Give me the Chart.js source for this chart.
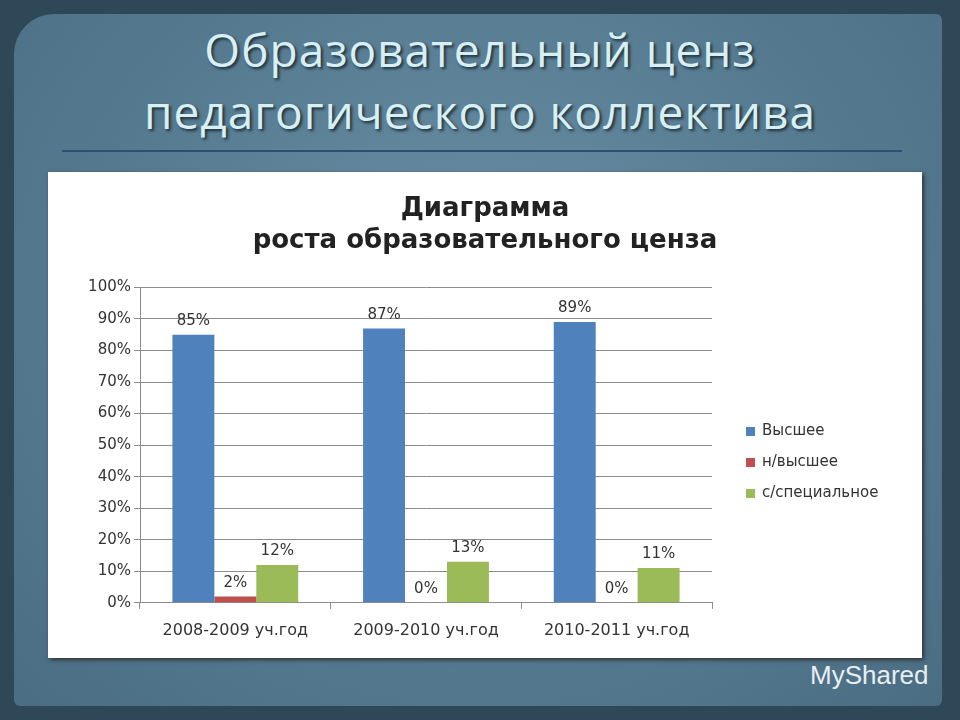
<!DOCTYPE html>
<html><head><meta charset="utf-8">
<script src="https://cdn.jsdelivr.net/npm/chart.js@4"></script>
<style>
body{margin:0;width:960px;height:720px;background:#2f4858;overflow:hidden;font-family:"Open Sans",sans-serif}
#frame{position:absolute;left:14px;top:14px;width:928px;height:692px;border-radius:40px 6px 6px 6px;background:radial-gradient(ellipse at 50% 40%,#6a8ea3 0%,#557a90 60%,#4a6d82 100%)}
#title{position:absolute;left:0;top:18px;width:960px;text-align:center;color:#d8f0f4;font-size:46px;line-height:62px;letter-spacing:1px;text-shadow:2px 2px 3px #1c2f3a}
#rule{position:absolute;left:62px;top:150px;width:840px;height:2px;background:#2c5070}
#panel{position:absolute;left:48px;top:172px;width:874px;height:486px;background:#fff;box-shadow:2px 2px 4px #333}
#wm{position:absolute;left:810px;top:660px;color:#e8eef2;font-size:26px;font-family:Arial,sans-serif}
</style></head><body>
<div id="frame"></div>
<div id="title">Образовательный ценз<br>педагогического коллектива</div>
<div id="rule"></div>
<div id="panel"><canvas id="c" width="874" height="486"></canvas></div>
<div id="wm">MyShared</div>
<script>
const categories=["2008-2009 уч.год","2009-2010 уч.год","2010-2011 уч.год"];
const higher=[85,87,89];
const incomplete=[2,0,0];
const special=[12,13,11];
const seriesNames=["Высшее","н/высшее","с/специальное"];
const colors=["#4f81bd","#c0504d","#9bbb59"];
const F="'DejaVu Sans',sans-serif";
const labelsPlugin={id:"lbl",afterDatasetsDraw(ch){const c=ch.ctx;c.save();c.font="15px "+F;c.fillStyle="#333";c.textAlign="center";c.textBaseline="bottom";
ch.data.datasets.forEach((d,i)=>{ch.getDatasetMeta(i).data.forEach((b,j)=>{c.fillText(d.data[j]+"%",b.x,b.y-6);});});
const x=ch.chartArea.right+34;let y=259;
ch.data.datasets.forEach((d,i)=>{c.fillStyle=d.backgroundColor;c.fillRect(x,y+i*31-4,9,9);c.fillStyle="#333";c.textAlign="left";c.textBaseline="middle";c.font="15px "+F;c.fillText(d.label,x+16,y+i*31);});
c.restore();}};
new Chart(document.getElementById("c"),{type:"bar",
data:{labels:categories,datasets:[higher,incomplete,special].map((v,i)=>({label:seriesNames[i],data:v,backgroundColor:colors[i],categoryPercentage:0.66,barPercentage:1}))},
options:{responsive:false,animation:false,
layout:{padding:{left:0,right:0,top:0,bottom:6}},
plugins:{legend:{display:false},tooltip:{enabled:false},
title:{display:true,text:["Диаграмма","роста образовательного ценза"],font:{size:26,weight:"bold",family:F},color:"#222",lineHeight:1.45,padding:{top:22,bottom:31}}},
scales:{y:{min:0,max:100,ticks:{stepSize:10,callback:v=>v+"%",color:"#333",font:{size:15,family:F}},grid:{color:"#8c8c8c",tickLength:6},border:{color:"#8c8c8c"},afterFit(s){s.width=92;}},
y2:{position:"right",display:true,ticks:{display:false},grid:{display:false},border:{display:false},afterFit(s){s.width=210;}},
x:{grid:{offset:true,drawOnChartArea:false,color:"#8c8c8c",tickLength:6},border:{color:"#8c8c8c"},ticks:{color:"#333",padding:12,font:{size:16,family:F}}}}},
plugins:[labelsPlugin]});
</script></body></html>
